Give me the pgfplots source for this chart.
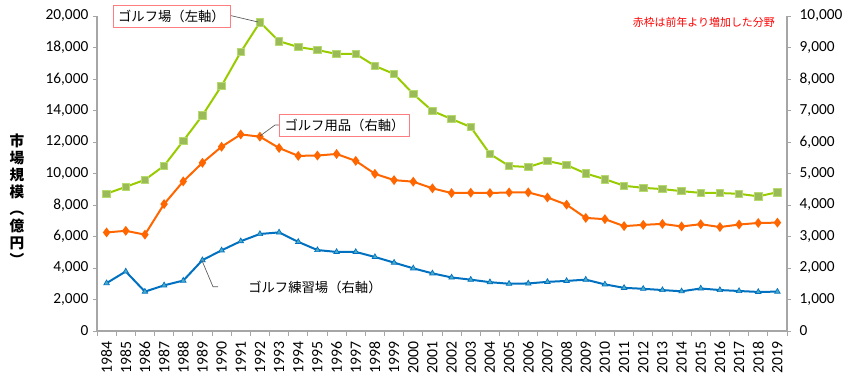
\documentclass[border=0pt]{standalone}
\usepackage{fontspec}
\setmainfont{Carlito}
\newfontfamily\jp{Noto Sans CJK JP}
\usepackage{pgfplots}
\usepackage{pgfplotstable}
\pgfplotsset{compat=1.18}
\definecolor{courseline}{HTML}{99CC00}
\definecolor{coursemark}{HTML}{9BBB59}
\definecolor{courseedge}{HTML}{B5DB6B}
\definecolor{goods}{HTML}{FF6600}
\definecolor{practice}{HTML}{0070C0}
\definecolor{practicemark}{HTML}{4BACC6}
\definecolor{boxred}{HTML}{FF7C80}
\definecolor{axisgray}{HTML}{A6A6A6}
\pgfplotstableread{
x course goods practice
0 8720 3130 1520
1 9150 3180 1890
2 9600 3060 1250
3 10490 4030 1450
4 12070 4750 1600
5 13690 5340 2250
6 15570 5850 2560
7 17710 6240 2850
8 19600 6170 3080
9 18400 5810 3130
10 18030 5560 2830
11 17840 5570 2570
12 17590 5620 2510
13 17590 5400 2510
14 16830 4990 2350
15 16320 4790 2170
16 15050 4740 1990
17 13970 4530 1830
18 13460 4380 1700
19 12950 4390 1630
20 11240 4380 1550
21 10480 4400 1500
22 10410 4400 1510
23 10790 4240 1560
24 10540 4010 1590
25 10000 3590 1630
26 9640 3550 1480
27 9220 3330 1370
28 9090 3370 1340
29 9010 3400 1300
30 8880 3320 1260
31 8770 3390 1350
32 8760 3300 1300
33 8710 3380 1270
34 8550 3430 1240
35 8810 3440 1250
}\data
\pgfplotsset{
  common/.style={
    at={(72.75pt,42pt)}, anchor=south west,
    scale only axis, width=517.5pt, height=236.25pt,
    xmin=-0.5, xmax=35.5,
    tick align=outside,
    axis line style={-, draw=axisgray, line width=0.8pt},
    tick style={draw=axisgray, line width=0.6pt},
    major tick length=3pt, minor tick length=3.5pt,
    /pgf/number format/assume math mode=true,
    /pgf/number format/1000 sep={,},
    scaled y ticks=false,
    ytick style={draw=axisgray},
    yticklabel style={font=\fontsize{11.5}{12}\selectfont},
  }
}
\begin{document}
\begin{tikzpicture}
\begin{axis}[common,
  ymin=0, ymax=20000,
  axis y line*=left, axis x line*=bottom,
  ytick={0,2000,...,20000},
  xtick={0,...,35},
  xticklabels={1984,1985,1986,1987,1988,1989,1990,1991,1992,1993,1994,1995,1996,1997,1998,1999,2000,2001,2002,2003,2004,2005,2006,2007,2008,2009,2010,2011,2012,2013,2014,2015,2016,2017,2018,2019},
  major x tick style={draw=none},
  minor xtick={-0.5,0.5,...,35.5},
  xticklabel style={yshift=-5pt, rotate=90, anchor=east, inner sep=0pt, font=\fontsize{11.8}{12}\selectfont},
]
\addplot[courseline, line width=1.5pt, mark=square*, mark size=2.8pt,
  mark options={fill=coursemark, draw=courseedge, line width=0.6pt}]
  table[x=x, y=course]{\data};
\end{axis}
\begin{axis}[common,
  ymin=0, ymax=10000,
  axis y line*=right, axis x line=none,
  ytick={0,1000,...,10000},
  yticklabel style={xshift=3pt},
]
\addplot[goods, line width=1.5pt, mark=diamond*, mark size=2.5pt,
  mark options={fill=goods, draw=goods}]
  table[x=x, y=goods]{\data};
\addplot[practice, line width=1.5pt, mark=triangle*, mark size=2.4pt,
  mark options={fill=practicemark, draw=practice, line width=0.5pt}]
  table[x=x, y=practice]{\data};
\end{axis}
% annotations
\draw[gray!70!black, line width=0.5pt] (172.5pt,278.7pt) -- (193.5pt,273.75pt);
\node[draw=boxred, line width=0.6pt, fill=white, inner xsep=3.9pt, inner ysep=3.5pt, font=\jp\fontsize{10}{12}\selectfont] at (128.6pt,277.9pt) {ゴルフ場（左軸）};
\draw[gray!70!black, line width=0.5pt] (210pt,196.5pt) -- (206.25pt,196.5pt) -- (195pt,188.25pt);
\node[draw=boxred, line width=0.6pt, fill=white, inner xsep=3.9pt, inner ysep=3.5pt, font=\jp\fontsize{10}{12}\selectfont] at (258.4pt,196.1pt) {ゴルフ用品（右軸）};
\draw[gray!70!black, line width=0.5pt] (151.3pt,95.25pt) -- (159.75pt,75.2pt) -- (163.5pt,75.2pt);
\node[anchor=west, inner sep=0pt, font=\jp\fontsize{10}{12}\selectfont] at (186pt,75pt) {ゴルフ練習場（右軸）};
\node[anchor=east, inner sep=0pt, text=red, font=\jp\fontsize{8.2}{10}\selectfont] at (581.25pt,273.75pt) {赤枠は前年より増加した分野};
\node[align=center, inner sep=0pt, font=\jp\bfseries\fontsize{11}{12.75}\selectfont] at (12.75pt,140.25pt) {市\\場\\規\\模\\︵\\億\\円\\︶};
\pgfresetboundingbox
\path (0pt,0pt) rectangle (637.5pt,290.25pt);
\end{tikzpicture}
\end{document}
